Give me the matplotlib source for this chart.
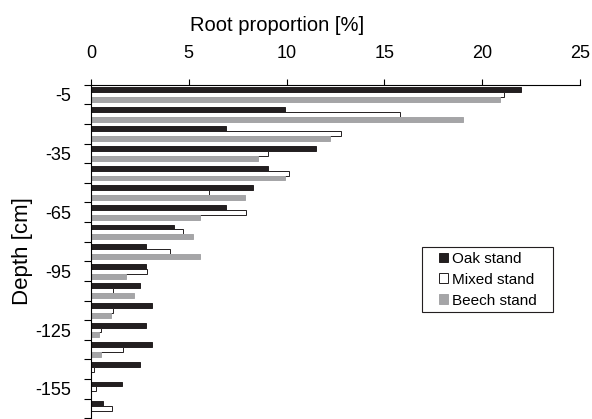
import matplotlib
matplotlib.use("Agg")
import matplotlib.pyplot as plt
from matplotlib.patches import Rectangle
import numpy as np

plt.rcParams['font.family'] = ['Liberation Sans', 'DejaVu Sans']

# depth class centres [cm] and root proportion [%] per stand
depths = [-5, -15, -25, -35, -45, -55, -65, -75, -85, -95,
          -105, -115, -125, -135, -145, -155, -165]
oak = [22.0, 9.9, 6.9, 11.5, 9.05, 8.3, 6.9, 4.25, 2.8, 2.8,
       2.5, 3.1, 2.8, 3.1, 2.5, 1.6, 0.6]
mixed = [21.1, 15.8, 12.8, 9.05, 10.1, 6.05, 7.9, 4.7, 4.05, 2.85,
         1.1, 1.1, 0.5, 1.65, 0.15, 0.25, 1.05]
beech = [20.9, 19.0, 12.2, 8.55, 9.9, 7.85, 5.55, 5.2, 5.55, 1.8,
         2.2, 1.0, 0.4, 0.5, 0.0, 0.0, 0.0]

series = [
    ("Oak stand", oak, dict(color="#231f20", edgecolor="#231f20")),
    ("Mixed stand", mixed, dict(color="white", edgecolor="#231f20")),
    ("Beech stand", beech, dict(color="#a5a5a7", edgecolor="#a5a5a7")),
]

fig = plt.figure(figsize=(5.92, 4.19), dpi=100)
ax = fig.add_axes([0.1537, 0.0017, 0.826, 0.796])

y = np.array(depths, dtype=float)
h = 2.5
for i, (name, vals, style) in enumerate(series):
    ax.barh(y + h - i * h, vals, height=h, linewidth=0.7, label=name, **style)

ax.set_xlim(0, 25)
ax.set_ylim(-170, 0)

# x axis on top
ax.xaxis.set_ticks_position('top')
ax.xaxis.set_label_position('top')
ax.set_xticks([0, 5, 10, 15, 20, 25])
ax.tick_params(axis='x', direction='out', length=4.5, width=0.8, pad=12, labelsize=13)
ax.set_xlabel("Root proportion [%]", fontsize=14.5)
ax.xaxis.set_label_coords(0.381, 1.16)

# y axis: ticks on class boundaries, labels on selected class centres
ax.set_yticks(np.arange(0, -171, -10))
ax.set_yticklabels([])
ax.set_yticks([-5, -35, -65, -95, -125, -155], minor=True)
ax.set_yticklabels(["-5", "-35", "-65", "-95", "-125", "-155"], minor=True)
ax.tick_params(axis='y', which='major', direction='out', length=5, width=0.8)
ax.tick_params(axis='y', which='minor', length=0, pad=14, labelsize=13)
ax.set_ylabel("Depth [cm]", fontsize=16)
ax.yaxis.set_label_coords(-0.119, 0.5)

for side in ("right", "bottom"):
    ax.spines[side].set_visible(False)
for side in ("top", "left"):
    ax.spines[side].set_linewidth(0.8)

leg = ax.legend(loc='upper left', bbox_to_anchor=(0.712, 0.499), frameon=False,
                fontsize=11, handlelength=0.6, handleheight=0.6,
                handletextpad=0.25, labelspacing=0.45, borderpad=0,
                borderaxespad=0)
ax.add_patch(Rectangle((0.676, 0.3177), 0.268, 0.1966, transform=ax.transAxes,
                       fill=False, edgecolor="#231f20", linewidth=0.8, clip_on=False))

fig.savefig("out.png", dpi=100)
